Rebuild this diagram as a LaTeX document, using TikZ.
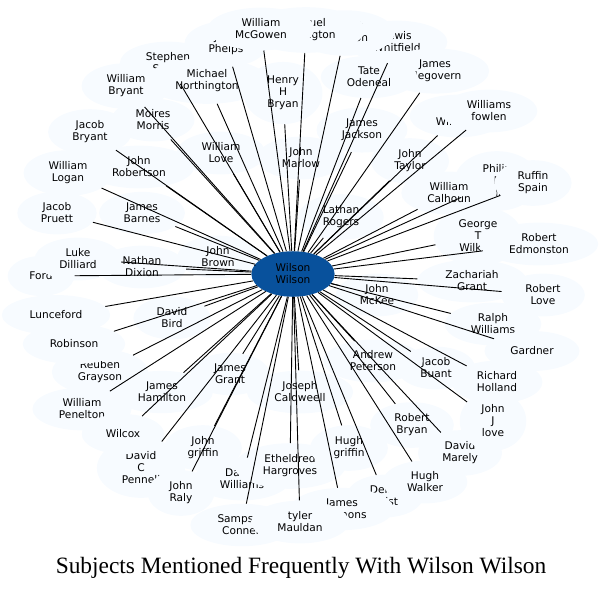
\documentclass[tikz,border=0pt]{standalone}
\usepackage{fontspec}
\newfontfamily\namefont{DejaVu Sans}
\newfontfamily\titlefont{Liberation Serif}
\usepackage{tikz}
\usetikzlibrary{shapes.geometric}
\definecolor{paleblue}{HTML}{F7FBFF}
\definecolor{darkblue}{HTML}{08519C}
\tikzset{
  person/.style={ellipse,fill=paleblue,align=center,inner xsep=12pt,inner ysep=5pt,
    minimum height=40pt,font=\namefont\fontsize{10.6}{12}\selectfont},
  subject/.style={person,fill=darkblue,inner ysep=6pt},
  link/.style={line width=0.9pt}
}
\begin{document}
\begin{tikzpicture}[x=1pt,y=-1pt]
    \useasboundingbox (0,0) rectangle (604,590);
    % names that end up half hidden go first
    \node[person] (phelps) at (226,44) {John\\Phelps};
    \node[person] (smith) at (168,63) {Stephen\\Smith};
    \node[person] (whitfield) at (397,42) {Lewis\\Whitfield};
    \node[person] (johnston) at (345,33) {Robert\\Johnston};
    \node[person] (huntington) at (306,30) {Samuel\\Huntington};
    \node[person] (megovern) at (435,71) {James\\Megovern};
    \node[person] (jwilliams) at (458,116) {John\\Williams};
    \node[person] (pwalker) at (497,181) {Philip\\F\\Walker};
    \node[person] (wilkins) at (478,236) {George\\T\\Wilkins};
    \node[person] (buant) at (436,368) {Jacob\\Buant};
    \node[person] (marely) at (460,453) {David\\Marely};
    \node[person] (jjlove) at (493,421) {John\\J\\love};
    \node[person] (twist) at (385,496) {Delila\\Twist};
    \node[person] (simmons) at (342,509) {James\\Simmons};
    \node[person] (connell) at (242,525) {Sampson\\Connell};
    \node[person] (dwilliams) at (242,479) {Daniel\\Williams};
    \node[person] (pennell) at (141,468) {David\\C\\Pennell};
    \node[person] (grayson) at (100,372) {Reuben\\Grayson};
    \node[person] (ford) at (41,276) {Ford};
    \node[person] (morris) at (153,120) {Moires\\Morris};
    % the rest
    \node[person] (mcgowen) at (261,29) {William\\McGowen};
    \node[person] (odeneal) at (369,77) {Tate\\Odeneal};
    \node[person] (fowlen) at (489,111) {Williams\\fowlen};
    \node[person] (wbryant) at (126,86) {William\\Bryant};
    \node[person] (northington) at (207,81) {Michael\\Northington};
    \node[person] (hbryan) at (283,93) {Henry\\H\\Bryan};
    \node[person] (jbryant) at (90,132) {Jacob\\Bryant};
    \node[person] (wlove) at (221,153) {William\\Love};
    \node[person] (marlow) at (301,158) {John\\Marlow};
    \node[person] (jackson) at (362,130) {James\\Jackson};
    \node[person] (taylor) at (410,161) {John\\Taylor};
    \node[person] (robertson) at (139,167) {John\\Robertson};
    \node[person] (logan) at (68,173) {William\\Logan};
    \node[person] (spain) at (533,183) {Ruffin\\Spain};
    \node[person] (calhoun) at (449,193) {William\\Calhoun};
    \node[person] (pruett) at (57,213) {Jacob\\Pruett};
    \node[person] (barnes) at (142,213) {James\\Barnes};
    \node[person] (rogers) at (341,217) {Lathan\\Rogers};
    \node[person] (edmonston) at (539,244) {Robert\\Edmonston};
    \node[person] (dilliard) at (78,259) {Luke\\Dilliard};
    \node[person] (brown) at (218,257) {John\\Brown};
    \node[person] (dixion) at (142,267) {Nathan\\Dixion};
    \node[person] (zgrant) at (472,281) {Zachariah\\Grant};
    \node[person] (mckee) at (377,295) {John\\McKee};
    \node[person] (rlove) at (543,295) {Robert\\Love};
    \node[person] (lunceford) at (56,315) {Lunceford};
    \node[person] (bird) at (172,318) {David\\Bird};
    \node[person] (rwilliams) at (493,324) {Ralph\\Williams};
    \node[person] (robinson) at (74,344) {Robinson};
    \node[person] (gardner) at (532,351) {Gardner};
    \node[person] (peterson) at (373,361) {Andrew\\Peterson};
    \node[person] (holland) at (497,382) {Richard\\Holland};
    \node[person] (hamilton) at (162,392) {James\\Hamilton};
    \node[person] (jgrant) at (230,374) {James\\Grant};
    \node[person] (caldweell) at (300,392) {Joseph\\Caldweell};
    \node[person] (penelton) at (82,409) {William\\Penelton};
    \node[person] (wilcox) at (123,434) {Wilcox};
    \node[person] (rbryan) at (412,425) {Robert\\Bryan};
    \node[person] (jgriffin) at (203,448) {John\\griffin};
    \node[person] (hargroves) at (290,466) {Etheldred\\Hargroves};
    \node[person] (hgriffin) at (349,448) {Hugh\\griffin};
    \node[person] (hwalker) at (425,482) {Hugh\\Walker};
    \node[person] (raly) at (181,493) {John\\Raly};
    \node[person] (mauldan) at (300,522) {tyler\\Mauldan};
    \node[subject] (ww) at (293,274) {Wilson\\Wilson};
    \draw[link]
    (ww) edge (phelps) edge (smith) edge (whitfield) edge (johnston)
    (ww) edge (huntington) edge (megovern) edge (jwilliams) edge (pwalker)
    (ww) edge (wilkins) edge (buant) edge (marely) edge (jjlove)
    (ww) edge (twist) edge (simmons) edge (connell) edge (dwilliams)
    (ww) edge (pennell) edge (grayson) edge (ford) edge (morris)
    (ww) edge (mcgowen) edge (odeneal) edge (fowlen) edge (wbryant)
    (ww) edge (northington) edge (hbryan) edge (jbryant) edge (wlove)
    (ww) edge (marlow) edge (jackson) edge (taylor) edge (robertson)
    (ww) edge (logan) edge (spain) edge (calhoun) edge (pruett)
    (ww) edge (barnes) edge (rogers) edge (edmonston) edge (dilliard)
    (ww) edge (brown) edge (dixion) edge (zgrant) edge (mckee)
    (ww) edge (rlove) edge (lunceford) edge (bird) edge (rwilliams)
    (ww) edge (robinson) edge (gardner) edge (peterson) edge (holland)
    (ww) edge (hamilton) edge (jgrant) edge (caldweell) edge (penelton)
    (ww) edge (wilcox) edge (rbryan) edge (jgriffin) edge (hargroves)
    (ww) edge (hgriffin) edge (hwalker) edge (raly) edge (mauldan);
    \node (title) at (301,568) {\titlefont\fontsize{23.4}{26}\selectfont Subjects Mentioned Frequently With Wilson Wilson};
\end{tikzpicture}
\end{document}
